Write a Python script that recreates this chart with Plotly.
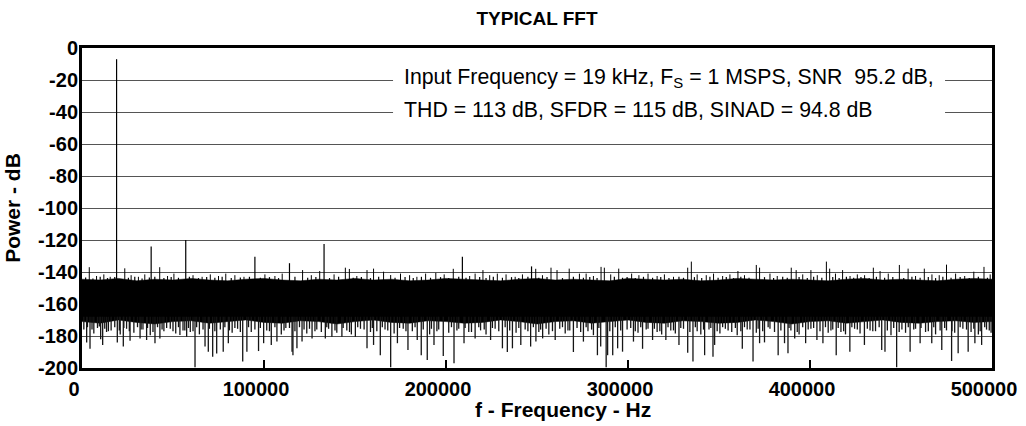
import plotly.graph_objects as go

# ---------------- data ----------------
x_ticks = [0, 100000, 200000, 300000, 400000, 500000]
x_tick_labels = ["0", "100000", "200000", "300000", "400000", "500000"]
y_ticks = [0, -20, -40, -60, -80, -100, -120, -140, -160, -180, -200]
y_tick_labels = ["0", "-20", "-40", "-60", "-80", "-100", "-120", "-140", "-160", "-180", "-200"]

# fundamental + harmonic spurs (Hz, dB)
tone_freq = [19000, 38000, 57000, 95000, 114000, 133000, 209000, 247000]
tone_db = [-7, -124, -120, -130.5, -134.5, -122.5, -130.5, -136.5]

# dense noise floor envelope, sampled every 10 kHz
band_freq = list(range(0, 500001, 10000))
band_top = [
    -144.5, -145.0, -144.0, -145.5, -144.5, -145.0, -144.0, -145.0, -145.5, -144.5,
    -144.0, -145.0, -145.5, -144.5, -145.0, -144.0, -145.0, -144.5, -145.5, -145.0,
    -144.0, -144.5, -145.0, -145.5, -144.5, -144.0, -145.0, -144.5, -145.0, -145.5,
    -144.0, -144.5, -145.0, -144.5, -145.5, -145.0, -144.0, -144.5, -145.0, -144.5,
    -145.0, -145.5, -144.5, -144.0, -145.0, -144.5, -145.0, -145.5, -144.5, -144.0,
    -144.5]
band_bottom = [
    -171.0, -172.0, -170.0, -171.5, -172.5, -171.0, -170.5, -172.0, -171.0, -170.0,
    -171.5, -172.0, -170.5, -171.0, -172.5, -171.0, -170.0, -171.5, -172.0, -170.5,
    -171.0, -172.0, -171.5, -170.0, -171.0, -172.5, -171.0, -170.5, -172.0, -171.0,
    -170.0, -171.5, -172.0, -170.5, -171.0, -172.0, -171.5, -170.0, -171.0, -172.5,
    -171.0, -170.5, -172.0, -171.0, -170.0, -171.5, -172.0, -171.0, -170.5, -171.5,
    -171.0]

# noise peaks rising above the floor (Hz, dB)
up_spikes = [
    [4000, -137.0], [23500, -137.7], [42700, -137.0], [121200, -138.8], [130600, -139.4],
    [144700, -137.3], [146900, -138.1], [156600, -138.8], [160200, -137.9], [165700, -139.8],
    [169600, -141.9], [188800, -141.0], [194400, -140.5], [204000, -138.0], [220300, -138.8],
    [228200, -141.0], [249300, -138.0], [257700, -137.3], [261000, -138.8], [267700, -137.9],
    [273300, -141.0], [285200, -136.8], [287000, -137.3], [294900, -137.9], [302000, -141.0],
    [332800, -137.3], [334800, -133.5], [360400, -139.4], [370500, -135.6], [372300, -137.3],
    [389700, -137.3], [392400, -138.8], [400500, -138.8], [409000, -133.5], [410800, -137.9],
    [417900, -138.8], [434800, -137.3], [438500, -139.4], [449100, -135.6], [453900, -137.9],
    [462800, -137.9], [475000, -135.4], [490000, -139.8], [495600, -136.8],
    [8000, -142.5], [12000, -141.5], [15500, -143.0], [27000, -142.0], [31000, -143.0],
    [34500, -141.5], [47000, -142.5], [50500, -141.0], [61000, -142.0], [66000, -143.0],
    [70500, -141.5], [75000, -142.5], [79000, -141.0], [84000, -142.0], [89000, -143.0],
    [100500, -141.5], [106000, -142.5], [110000, -141.0], [126000, -142.0], [138500, -141.5],
    [151000, -142.5], [175000, -141.0], [180000, -142.0], [184000, -143.0], [199000, -141.5],
    [213000, -142.5], [216000, -141.0], [224000, -142.0], [233000, -141.5], [238000, -143.0],
    [242000, -141.5], [253000, -142.0], [277000, -141.0], [281000, -142.5], [290500, -141.5],
    [306000, -142.0], [311000, -141.0], [316000, -142.5], [320000, -141.5], [325000, -143.0],
    [338000, -141.5], [343000, -142.0], [347000, -141.0], [352000, -142.5], [356000, -141.5],
    [364000, -142.0], [378000, -141.0], [382000, -142.5], [396000, -141.5], [404000, -142.0],
    [414000, -141.0], [422000, -142.5], [426000, -141.5], [430000, -142.0], [443000, -141.0],
    [458000, -142.5], [467000, -141.5], [471000, -142.0], [480000, -141.0], [485000, -142.5],
    [499000, -141.5]]

# short ragged teeth along the top edge of the floor (Hz, dB)
up_teeth = [
    [2000, -143.5], [6000, -144.0], [10000, -143.0], [14000, -143.8], [18000, -143.2],
    [25500, -143.6], [29000, -143.0], [33000, -144.0], [37000, -143.4], [40000, -143.0],
    [45000, -143.8], [49000, -143.2], [53000, -143.6], [59000, -143.0], [64000, -143.8],
    [68500, -143.2], [73000, -143.6], [77000, -143.0], [82000, -143.8], [87000, -143.4],
    [92000, -143.0], [98000, -143.6], [103000, -143.2], [108000, -143.8], [117000, -143.0],
    [124000, -143.6], [128500, -143.2], [136000, -143.8], [141000, -143.0], [149000, -143.6],
    [153500, -143.2], [158500, -143.8], [163000, -143.0], [172000, -143.6], [177500, -143.2],
    [182000, -143.8], [186500, -143.0], [191500, -143.6], [197000, -143.2], [201500, -143.8],
    [207000, -143.0], [211000, -143.6], [218500, -143.2], [222000, -143.8], [226000, -143.0],
    [231000, -143.6], [236000, -143.2], [240000, -143.8], [245000, -143.0], [251000, -143.6],
    [255500, -143.2], [264000, -143.8], [270000, -143.0], [275500, -143.6], [279000, -143.2],
    [283000, -143.8], [292500, -143.0], [297000, -143.6], [299500, -143.2], [304000, -143.8],
    [308500, -143.0], [313500, -143.6], [318000, -143.2], [322500, -143.8], [328000, -143.0],
    [330500, -143.6], [336500, -143.2], [340500, -143.8], [345000, -143.0], [349500, -143.6],
    [354000, -143.2], [358000, -143.8], [362000, -143.0], [366500, -143.6], [375000, -143.2],
    [380000, -143.8], [385000, -143.0], [387500, -143.6], [394000, -143.2], [398500, -143.8],
    [402000, -143.0], [406500, -143.6], [412500, -143.2], [416000, -143.8], [420000, -143.0],
    [424000, -143.6], [428000, -143.2], [432500, -143.8], [436500, -143.0], [441000, -143.6],
    [445500, -143.2], [451500, -143.8], [456000, -143.0], [460500, -143.6], [465000, -143.2],
    [469000, -143.8], [473000, -143.0], [477500, -143.6], [482500, -143.2], [487500, -143.8],
    [492500, -143.0], [497500, -143.6]]

# noise dips falling below the floor (Hz, dB)
down_spikes = [
    [2560, -184.0], [4400, -188.0], [10250, -182.0], [11350, -185.6], [19400, -184.0],
    [22700, -186.6], [26400, -183.0], [31900, -181.5], [35500, -182.5], [40100, -184.5],
    [42800, -181.5], [53800, -179.4], [57500, -180.5], [62100, -199.5], [67600, -186.6],
    [69400, -189.8], [71800, -193.0], [74000, -191.0], [77600, -189.8], [80400, -184.5],
    [88300, -196.0], [90600, -189.8], [97000, -189.4], [99800, -184.5], [104000, -185.6],
    [107100, -183.5], [115400, -189.8], [115900, -192.0], [118100, -187.7], [120900, -183.5],
    [126400, -181.5], [133700, -181.5], [137300, -180.5], [142800, -180.5], [150200, -180.5],
    [156600, -187.7], [160200, -185.6], [163900, -192.0], [169600, -199.5], [173300, -184.5],
    [179100, -188.7], [184200, -182.5], [186400, -192.0], [189700, -195.0], [193400, -185.6],
    [198500, -192.5], [204400, -197.0], [209900, -184.5], [216000, -181.5], [224500, -182.5],
    [231000, -187.7], [233700, -190.0], [236500, -187.7], [241100, -185.6], [246500, -186.6],
    [249400, -183.5], [253100, -181.5], [260000, -182.5], [270000, -190.0], [275500, -183.5],
    [283200, -192.0], [285000, -186.6], [288000, -199.5], [288800, -192.0], [291600, -192.0],
    [294300, -187.7], [297000, -189.8], [303000, -183.5], [308000, -188.0], [313500, -182.5],
    [320800, -182.5], [328000, -185.6], [332800, -190.5], [335700, -196.0], [342100, -192.0],
    [346700, -193.0], [347600, -185.6], [362800, -188.0], [368700, -196.0], [372300, -184.5],
    [375000, -184.0], [382500, -192.0], [386000, -184.5], [387900, -190.8], [391600, -181.5],
    [397600, -184.5], [403800, -182.5], [407100, -184.5], [414400, -192.0], [421900, -189.8],
    [429900, -185.6], [439400, -188.7], [441200, -189.8], [447600, -199.5], [455000, -189.8],
    [460500, -184.5], [466900, -184.5], [472400, -188.7], [477800, -195.6], [481400, -190.8],
    [486900, -189.8], [490600, -184.5], [494300, -185.6],
    [1000, -176.0], [6500, -178.5], [8500, -175.0], [13500, -177.5], [16000, -176.5],
    [21000, -179.0], [24500, -175.5], [28500, -178.0], [33500, -176.0], [37500, -179.5],
    [45000, -177.0], [48500, -175.5], [51500, -178.5], [55500, -176.5], [59500, -177.5],
    [64500, -179.0], [76000, -176.0], [82500, -178.0], [85500, -175.5], [93000, -177.5],
    [101500, -176.5], [109500, -179.0], [112000, -175.0], [123500, -178.5], [129000, -176.0],
    [131500, -177.5], [135500, -175.5], [140000, -178.0], [145500, -176.5], [148000, -179.0],
    [153000, -175.5], [158500, -177.5], [166500, -176.0], [171500, -178.5], [176500, -175.5],
    [181500, -177.0], [191000, -179.0], [196000, -176.0], [201500, -178.0], [207000, -175.5],
    [212500, -177.5], [219000, -176.5], [222000, -179.0], [227000, -175.5], [238500, -178.0],
    [243500, -176.0], [251000, -177.5], [256500, -179.0], [262500, -175.5], [265500, -178.5],
    [268000, -176.5], [278000, -177.0], [281000, -179.5], [299500, -176.0], [305500, -178.0],
    [311000, -175.5], [316000, -177.5], [318500, -179.0], [323500, -176.5], [326000, -178.5],
    [330500, -175.5], [338000, -177.0], [340000, -179.0], [344500, -176.0], [350500, -178.5],
    [353500, -175.5], [357000, -177.5], [360000, -179.5], [365500, -176.0], [370500, -178.0],
    [378000, -175.5], [380500, -177.5], [389500, -176.5], [394000, -179.0], [400500, -175.5],
    [410000, -178.0], [412500, -176.0], [417000, -177.5], [419500, -179.0], [424500, -175.5],
    [427500, -178.5], [433000, -176.5], [436000, -177.0], [444500, -179.5], [450500, -176.0],
    [452500, -178.0], [458000, -175.5], [463500, -177.5], [469000, -179.0], [475000, -176.5],
    [479500, -178.0], [484000, -175.5], [488500, -177.5], [492500, -179.0], [497000, -176.0],
    [499500, -178.0]]

# extra short teeth along the bottom edge of the floor (Hz, dB)
down_teeth = [
    [3000, -174.5], [5500, -176.0], [9500, -174.0], [12500, -175.5], [14500, -177.0],
    [18000, -174.5], [20500, -176.5], [23000, -175.0], [26000, -177.0], [30500, -174.5],
    [32500, -176.0], [36000, -175.0], [39000, -177.5], [41500, -174.5], [44000, -176.0],
    [46500, -175.0], [50000, -177.0], [53000, -174.5], [56500, -176.5], [58500, -175.0],
    [61000, -177.0], [63000, -174.5], [66500, -176.0], [70000, -175.5], [73000, -177.0],
    [78500, -174.5], [81000, -176.5], [84000, -175.0], [87000, -177.5], [91500, -174.5],
    [95000, -176.0], [98000, -175.0], [103000, -177.0], [106000, -174.5], [111000, -176.5],
    [114000, -175.0], [117000, -177.0], [119500, -174.5], [122000, -176.0], [125000, -175.5],
    [128000, -177.0], [134500, -174.5], [139000, -176.5], [143500, -175.0], [147000, -177.5],
    [151500, -174.5], [155000, -176.0], [159500, -175.0], [162000, -177.0], [165000, -174.5],
    [168000, -176.5], [174500, -175.0], [178000, -177.0], [183000, -174.5], [187500, -176.0],
    [192000, -175.5], [195000, -177.0], [203000, -174.5], [206000, -176.5], [210500, -175.0],
    [214000, -177.5], [218000, -174.5], [221000, -176.0], [225500, -175.0], [229000, -177.0],
    [232500, -174.5], [235000, -176.5], [240000, -175.0], [245000, -177.0], [248000, -174.5],
    [252000, -176.0], [255000, -175.5], [258500, -177.0], [264000, -174.5], [267000, -176.5],
    [272000, -175.0], [274000, -177.5], [277000, -174.5], [280000, -176.0], [284000, -175.0],
    [290000, -177.0], [293000, -174.5], [296000, -176.5], [301500, -175.0], [304000, -177.0],
    [307000, -174.5], [310000, -176.0], [314500, -175.5], [317500, -177.0], [322000, -174.5],
    [325000, -176.5], [329000, -175.0], [334000, -177.5], [337000, -174.5], [341500, -176.0],
    [345500, -175.0], [349000, -177.0], [352000, -174.5], [355000, -176.5], [359000, -175.0],
    [362000, -177.0], [364000, -174.5], [367000, -176.0], [371500, -175.5], [374000, -177.0],
    [377000, -174.5], [384000, -176.5], [388500, -175.0], [393000, -177.5], [396000, -174.5],
    [399000, -176.0], [402000, -175.0], [405500, -177.0], [408500, -174.5], [411500, -176.5],
    [415500, -175.0], [418500, -177.0], [423000, -174.5], [426000, -176.0], [431500, -175.5],
    [434500, -177.0], [438000, -174.5], [442500, -176.5], [446000, -175.0], [449000, -177.5],
    [454000, -174.5], [457000, -176.0], [461000, -175.0], [465000, -177.0], [468000, -174.5],
    [471500, -176.5], [474000, -175.0], [478000, -177.0], [482500, -174.5], [486000, -176.0],
    [490000, -175.5], [493500, -177.0], [496000, -174.5], [498500, -176.5]]

info_line1 = "Input Frequency = 19 kHz, F<sub>S</sub> = 1 MSPS, SNR  95.2 dB,"
info_line2 = "THD = 113 dB, SFDR = 115 dB, SINAD = 94.8 dB"

# ---------------- figure ----------------
FONT = "Arial, Liberation Sans, Helvetica, sans-serif"


def spike_xy(pairs, base):
    xs, ys = [], []
    for f, v in pairs:
        xs += [f, f, None]
        ys += [base, v, None]
    return xs, ys


fig = go.Figure()

# dense noise floor band
fig.add_trace(go.Scatter(
    x=band_freq + band_freq[::-1],
    y=band_top + band_bottom[::-1],
    fill="toself", fillcolor="black", mode="lines",
    line=dict(color="black", width=0.5),
    hoverinfo="skip", showlegend=False))

for pairs, base, color, width in [
    (down_teeth, -168, "#111111", 1.3),
    (down_spikes, -168, "#151515", 1.3),
    (up_teeth, -146, "black", 1.2),
    (up_spikes, -146, "black", 1.0),
]:
    sx, sy = spike_xy(pairs, base)
    fig.add_trace(go.Scatter(x=sx, y=sy, mode="lines",
                             line=dict(color=color, width=width),
                             hoverinfo="skip", showlegend=False))

tx, ty = spike_xy(list(zip(tone_freq, tone_db)), -150)
fig.add_trace(go.Scatter(x=tx, y=ty, mode="lines",
                         line=dict(color="black", width=1.2),
                         hoverinfo="skip", showlegend=False))

# white box behind the info text (interrupts the grid lines)
fig.add_shape(type="rect", xref="x", yref="y",
              x0=170900, x1=474200, y0=-11.5, y1=-47,
              fillcolor="white", line=dict(width=0), layer="above")

fig.add_annotation(x=176000, y=-18.8, xref="x", yref="y", text=info_line1,
                   showarrow=False, xanchor="left", yanchor="middle",
                   font=dict(family=FONT, size=21.3, color="black"))
fig.add_annotation(x=176000, y=-38.8, xref="x", yref="y", text=info_line2,
                   showarrow=False, xanchor="left", yanchor="middle",
                   font=dict(family=FONT, size=21.3, color="black"))

# x-axis title
fig.add_annotation(x=0.529, y=-0.131, xref="paper", yref="paper",
                   text="<b>f - Frequency - Hz</b>", showarrow=False,
                   xanchor="center", yanchor="middle",
                   font=dict(family=FONT, size=21, color="black"))

fig.update_layout(
    width=1026, height=426,
    margin=dict(l=82, r=34, t=48, b=58, autoexpand=False),
    paper_bgcolor="white", plot_bgcolor="white",
    font=dict(family=FONT, color="black"),
    title=dict(text="<b>TYPICAL FFT</b>", x=0.5, xref="paper",
               y=1 - 18 / 426, yref="container", yanchor="middle",
               font=dict(family=FONT, size=19, color="black")),
    showlegend=False,
)

fig.update_xaxes(
    range=[0, 500000], tickvals=x_ticks, ticktext=x_tick_labels,
    showgrid=False, zeroline=False, automargin=False,
    showline=True, linewidth=3, linecolor="black", mirror=True,
    ticks="inside", ticklen=8, tickwidth=1.5, tickcolor="black",
    tickfont=dict(family=FONT, size=20, color="black", weight="bold"),
    ticklabelshift=-8, ticklabelstandoff=1,
)
fig.update_yaxes(
    range=[-200, 0], tickvals=y_ticks, ticktext=y_tick_labels,
    showgrid=True, gridcolor="#555555", gridwidth=1, zeroline=False,
    automargin=False,
    showline=True, linewidth=3, linecolor="black", mirror=True,
    ticks="", ticklen=0,
    tickfont=dict(family=FONT, size=20, color="black", weight="bold"),
    ticklabelstandoff=-3,
    title=dict(text="<b>Power - dB</b>", standoff=12,
               font=dict(family=FONT, size=21, color="black")),
)

fig.write_html("out.html", config={"displayModeBar": False},
               post_script="document.body.style.margin='0';")
